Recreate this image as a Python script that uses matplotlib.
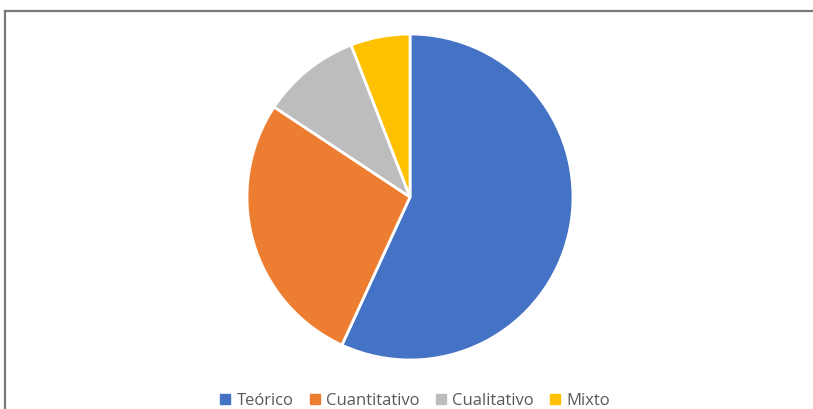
import matplotlib.pyplot as plt
from matplotlib.lines import Line2D

categorias = ['Teórico', 'Cuantitativo', 'Cualitativo', 'Mixto']
valores = [29, 14, 5, 3]
colores = ['#4472C4', '#ED7D31', '#BDBDBD', '#FFC000']

W, H = 813, 409
fig = plt.figure(figsize=(W / 100, H / 100), dpi=100)

# marco del grafico: solo se ve arriba y a la izquierda
borde = '#7a7a7a'
fig.add_artist(Line2D([5 / W, 1], [1 - 10.5 / H, 1 - 10.5 / H], color=borde, linewidth=1.6))
fig.add_artist(Line2D([5 / W, 5 / W], [0, 1 - 10.5 / H], color=borde, linewidth=1.6))

cx, cy, r = 410, 197, 163
ax = fig.add_axes([(cx - r) / W, (H - cy - r) / H, 2 * r / W, 2 * r / H])
ax.pie(valores, colors=colores, startangle=90, counterclock=False,
       wedgeprops={'edgecolor': 'white', 'linewidth': 2})
ax.set_xlim(-1, 1)
ax.set_ylim(-1, 1)
ax.set_aspect('equal')
ax.axis('off')

handles = [Line2D([], [], marker='s', linestyle='', markersize=6.5,
                  markerfacecolor=c, markeredgecolor=c) for c in colores]
fig.legend(handles, categorias, loc='center', bbox_to_anchor=(413 / W, 1 - 401 / H),
           ncol=4, frameon=False, prop={'family': 'Open Sans', 'size': 12},
           labelcolor='#595959', handletextpad=0.15, columnspacing=0.7, handlelength=1.1)

fig.savefig('out.png', dpi=100)
